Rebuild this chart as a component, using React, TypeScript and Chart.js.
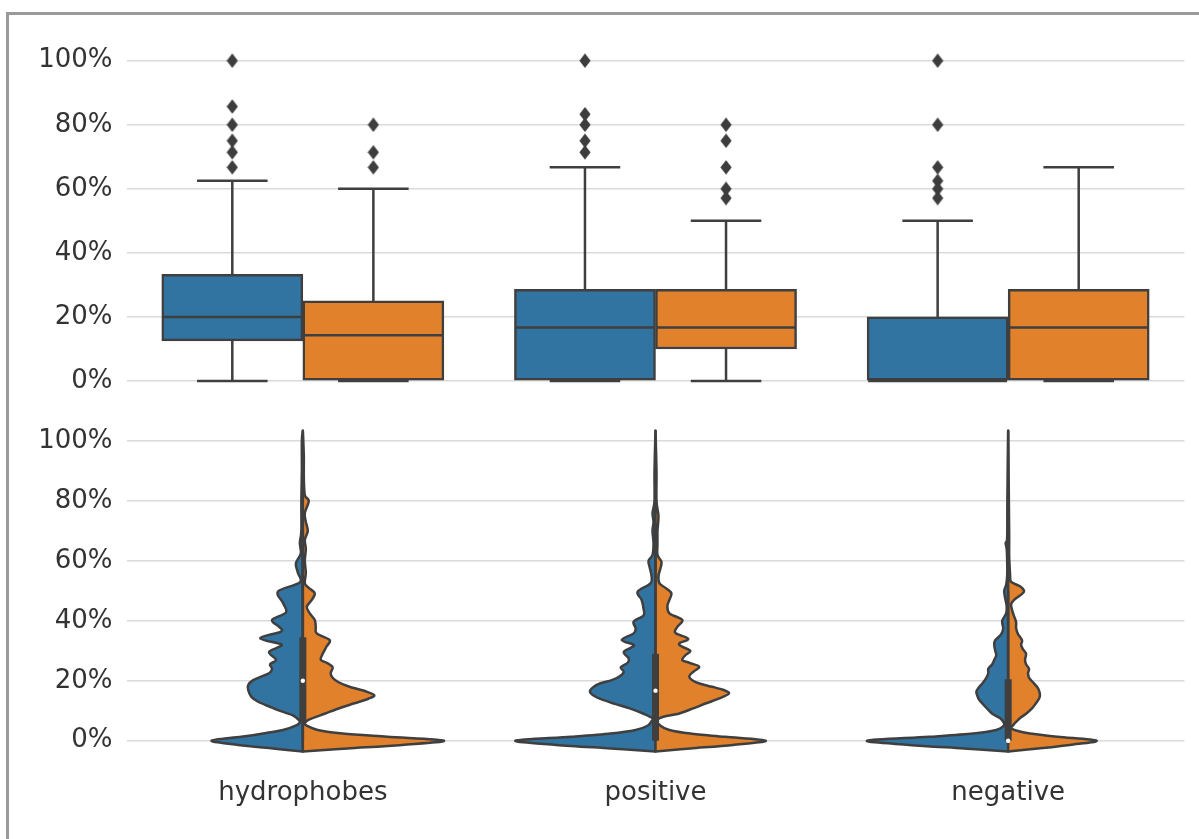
import React, { useEffect, useRef } from 'react';
import { Chart, registerables } from 'chart.js';

Chart.register(...registerables);

// ---------- data ----------
const categories = ['hydrophobes', 'positive', 'negative'];
const categoryIndex = [0, 1, 2];
const yTickValues = [0, 0.2, 0.4, 0.6, 0.8, 1.0];
const hueOffset = [-0.2, 0.2];

// box plot (top panel), one value per category
const blueQ1 = [0.125, 0, 0];
const blueMedian = [0.2, 0.167, 0];
const blueQ3 = [0.333, 0.286, 0.2];
const blueWhiskerLow = [0, 0, 0];
const blueWhiskerHigh = [0.625, 0.667, 0.5];
const blueOutliers = [
  [1.0, 0.857, 0.8, 0.75, 0.714, 0.667],
  [1.0, 0.833, 0.8, 0.75, 0.714],
  [1.0, 0.8, 0.667, 0.625, 0.6, 0.571],
];

const orangeQ1 = [0, 0.1, 0];
const orangeMedian = [0.143, 0.167, 0.167];
const orangeQ3 = [0.25, 0.286, 0.286];
const orangeWhiskerLow = [0, 0, 0];
const orangeWhiskerHigh = [0.6, 0.5, 0.667];
const orangeOutliers = [
  [0.8, 0.714, 0.667],
  [0.8, 0.75, 0.667, 0.6, 0.571],
  [],
];

// split violins (bottom panel): [value in %, density]
const violinHydroBlue = [[-3.6,0],[-2.6,30],[-1.4,65],[0,92],[1.3,62],[2.4,40],[3.6,20],[5.2,6],[6.3,3],[7.5,6],[8.6,11],[10.2,25],[11.3,33],[13,45],[14.7,52],[16.9,55],[18.6,55],[20.2,50],[21.4,42],[22.5,34],[24,31],[25.5,33],[27,27],[29.5,34],[31,26],[32.2,22],[34.2,43],[36.4,22],[38,24],[40.3,31],[42.8,17],[46,20],[49.8,25],[52.8,3],[56,5],[59.2,7],[62.5,2],[66,3],[70,1.5],[80,1.5],[90,1],[100,1],[103.4,0]];
const violinHydroOrange = [[-3.6,0],[-2.6,45],[-1.4,100],[0,142],[1.3,85],[2.4,40],[3.6,15],[5,4],[5.8,2],[7,6],[9,22],[11,38],[12.5,52],[14,66],[15.2,72],[16.5,63],[18,47],[19.5,36],[21,30],[22.5,28],[24.5,30],[26,24],[27,18],[29,20],[31.5,24],[33.6,27],[35.8,14],[38,13],[40.3,12],[42.5,7],[44.7,4],[47,9],[49.2,12],[51,6],[52.5,2],[56,3],[60,2],[64,3],[67,2],[70,5],[73,3],[76,2],[80,6],[82,2],[88,1],[95,1],[103.4,0]];
const violinPosBlue = [[-3.6,0],[-2.6,45],[-1.4,100],[0,141],[1.3,85],[2.4,45],[3.6,20],[5,8],[6.5,4],[7.5,3],[9,12],[10.8,26],[12.2,40],[13.6,53],[15,62],[16.4,66],[17.8,63],[19.1,56],[20.2,44],[21.5,36],[23,32],[24.5,35],[26,28],[27.5,27],[29.5,32],[31,25],[32,22],[33.6,34],[35.8,22],[37.5,20],[39.7,22],[41.8,12],[44,12],[47,14],[49.7,18],[52.5,5],[55,4],[58,6],[60,7],[62,3],[66,2],[70,3],[73,2],[76,3],[80,1],[90,1],[103.4,0]];
const violinPosOrange = [[-3.6,0],[-2.6,35],[-1.4,78],[0,111],[1.3,70],[2.4,35],[3.6,14],[5,5],[6.9,2],[8,8],[9.1,24],[10.8,38],[12.5,51],[14.2,65],[15.8,74],[17,68],[18,57],[19,45],[20.2,37],[21.5,34],[23,38],[24.7,44],[26,34],[26.9,27],[28.5,30],[30,35],[31.5,26],[32.5,24],[34,33],[36,20],[38,22],[40.3,27],[42.5,14],[45,12],[47,14],[49.2,16],[51,10],[52.5,4],[55,3],[57.5,5],[59.7,6],[62,2],[66,2],[70,2],[75,3],[80,1],[90,1],[103.4,0]];
const violinNegBlue = [[-3.6,0],[-2.6,45],[-1.4,100],[0,142],[1.3,80],[2.4,35],[3.6,12],[4.8,5],[5.8,4],[7.5,8],[9,16],[11,22],[13.6,29],[15,31],[16.4,32],[18,29],[19.1,26],[21,22],[22.5,20],[24,20],[25.5,16],[27,14],[28.5,12],[30,13],[32,14],[33.5,13],[35.5,7],[37.5,5],[40,6],[42.5,2],[45,1.5],[47.5,3],[50,4],[52,2],[55,1],[60,1],[64,1.5],[66,2.5],[68,1],[80,0.8],[103.4,0]];
const violinNegOrange = [[-3.6,0],[-2.6,30],[-1.4,62],[0,89],[1.3,50],[2.4,22],[3.4,8],[4.2,3],[5.2,5],[6.3,8],[7.8,13],[9,18],[10.8,24],[12.5,28],[14,31],[15.2,32],[16.8,31],[18,29],[19.5,25],[21,21],[22.5,20],[24,21],[25.5,18],[27,17],[29,18],[30.5,15],[32,13],[33.5,14],[35.5,10],[37.5,8],[39.5,8],[41.5,6],[43.5,4],[45.5,3],[47,6],[49,14],[50,16],[51.5,12],[53,3],[55,2],[58,1.5],[62,1],[70,1],[103.4,0]];

// inner box of the split violins (both hues pooled)
const violinQ1 = [0.062, 0, 0];
const violinMedian = [0.2, 0.167, 0];
const violinQ3 = [0.345, 0.29, 0.205];
const violinWhiskerLow = [0, 0, 0];
const violinWhiskerHigh = [0.75, 0.72, 0.5];

// ---------- style ----------
const BLUE = '#3274a1';
const ORANGE = '#e1812c';
const EDGE = '#3f3f3f';
const GRID = '#dadada';
const TEXT = '#333333';
const FONT = 'DejaVu Sans';

function makeDiamond(): HTMLCanvasElement {
  const c = document.createElement('canvas');
  c.width = 12;
  c.height = 15;
  const g = c.getContext('2d')!;
  g.fillStyle = '#3d3d3d';
  g.beginPath();
  g.moveTo(6, 0.3);
  g.lineTo(11.6, 7.5);
  g.lineTo(6, 14.7);
  g.lineTo(0.4, 7.5);
  g.closePath();
  g.fill();
  return c;
}

const pct = (v: number) => Math.round(v * 100) + '%';

function yScale(min: number, max: number) {
  return {
    type: 'linear',
    min,
    max,
    afterBuildTicks: (s: any) => {
      s.ticks = yTickValues.map((v) => ({ value: v }));
    },
    afterFit: (s: any) => {
      s.width = 126.5;
      s.paddingTop = 0;
      s.paddingBottom = 0;
    },
    border: { display: false },
    grid: { color: GRID, lineWidth: 1.5, drawTicks: false },
    ticks: {
      padding: 14,
      color: TEXT,
      font: { family: FONT, size: 26 },
      callback: (v: any) => pct(Number(v)),
    },
  };
}

const boxDetailsPlugin = {
  id: 'boxDetails',
  afterDatasetsDraw(chart: any) {
    const { ctx } = chart;
    const x = chart.scales.x;
    const y = chart.scales.y;
    const unit = x.getPixelForValue(1) - x.getPixelForValue(0);
    const hueSets = [
      { off: hueOffset[0], med: blueMedian, q1: blueQ1, q3: blueQ3, wl: blueWhiskerLow, wh: blueWhiskerHigh },
      { off: hueOffset[1], med: orangeMedian, q1: orangeQ1, q3: orangeQ3, wl: orangeWhiskerLow, wh: orangeWhiskerHigh },
    ];
    ctx.save();
    ctx.strokeStyle = EDGE;
    ctx.lineWidth = 2.5;
    ctx.lineCap = 'butt';
    hueSets.forEach((h) => {
      categoryIndex.forEach((i) => {
        const cx = x.getPixelForValue(i + h.off);
        const half = 0.197 * unit;
        const cap = 0.1 * unit;
        ctx.beginPath();
        ctx.moveTo(cx - half, y.getPixelForValue(h.med[i]));
        ctx.lineTo(cx + half, y.getPixelForValue(h.med[i]));
        ctx.moveTo(cx, y.getPixelForValue(h.q1[i]));
        ctx.lineTo(cx, y.getPixelForValue(h.wl[i]));
        ctx.moveTo(cx, y.getPixelForValue(h.q3[i]));
        ctx.lineTo(cx, y.getPixelForValue(h.wh[i]));
        ctx.moveTo(cx - cap, y.getPixelForValue(h.wl[i]));
        ctx.lineTo(cx + cap, y.getPixelForValue(h.wl[i]));
        ctx.moveTo(cx - cap, y.getPixelForValue(h.wh[i]));
        ctx.lineTo(cx + cap, y.getPixelForValue(h.wh[i]));
        ctx.stroke();
      });
    });
    ctx.restore();
  },
};

function smoothThrough(ctx: CanvasRenderingContext2D, pts: { x: number; y: number }[]) {
  ctx.moveTo(pts[0].x, pts[0].y);
  for (let i = 0; i < pts.length - 1; i++) {
    const p0 = pts[i - 1] || pts[i];
    const p1 = pts[i];
    const p2 = pts[i + 1];
    const p3 = pts[i + 2] || p2;
    const t = 1 / 6;
    ctx.bezierCurveTo(
      p1.x + (p2.x - p0.x) * t,
      p1.y + (p2.y - p0.y) * t,
      p2.x - (p3.x - p1.x) * t,
      p2.y - (p3.y - p1.y) * t,
      p2.x,
      p2.y
    );
  }
}

const violinProfiles = [
  [violinHydroBlue, violinHydroOrange],
  [violinPosBlue, violinPosOrange],
  [violinNegBlue, violinNegOrange],
];

const violinPlugin = {
  id: 'violins',
  afterDatasetsDraw(chart: any) {
    const { ctx } = chart;
    const x = chart.scales.x;
    const y = chart.scales.y;
    const unit = x.getPixelForValue(1) - x.getPixelForValue(0);
    let dMax = 0;
    violinProfiles.forEach((pair) => pair.forEach((p) => p.forEach(([, d]) => { if (d > dMax) dMax = d; })));
    ctx.save();
    ctx.lineJoin = 'round';
    ctx.strokeStyle = EDGE;
    violinProfiles.forEach((pair, i) => {
      const cx = x.getPixelForValue(i);
      pair.forEach((profile, h) => {
        const sign = h === 0 ? -1 : 1;
        const pts = profile.map(([v, d]) => ({
          x: cx + sign * (d / dMax) * 0.4 * unit,
          y: y.getPixelForValue(v / 100),
        }));
        ctx.beginPath();
        smoothThrough(ctx, pts);
        ctx.closePath();
        ctx.fillStyle = h === 0 ? BLUE : ORANGE;
        ctx.fill();
        ctx.lineWidth = 2.5;
        ctx.stroke();
      });
      ctx.lineCap = 'butt';
      ctx.lineWidth = 2.5;
      ctx.beginPath();
      ctx.moveTo(cx, y.getPixelForValue(violinWhiskerLow[i]));
      ctx.lineTo(cx, y.getPixelForValue(violinWhiskerHigh[i]));
      ctx.stroke();
      ctx.lineWidth = 7;
      ctx.beginPath();
      ctx.moveTo(cx, y.getPixelForValue(violinQ1[i]));
      ctx.lineTo(cx, y.getPixelForValue(violinQ3[i]));
      ctx.stroke();
      ctx.fillStyle = '#ffffff';
      ctx.beginPath();
      ctx.arc(cx, y.getPixelForValue(violinMedian[i]), 2.2, 0, Math.PI * 2);
      ctx.fill();
    });
    ctx.restore();
  },
};

function topConfig(): any {
  const diamond = makeDiamond();
  const outlierPoints: { x: number; y: number }[] = [];
  blueOutliers.forEach((list, i) => list.forEach((v) => outlierPoints.push({ x: i + hueOffset[0], y: v })));
  orangeOutliers.forEach((list, i) => list.forEach((v) => outlierPoints.push({ x: i + hueOffset[1], y: v })));
  const barStyle = {
    borderColor: EDGE,
    borderWidth: 2.5,
    borderSkipped: false,
    grouped: false,
    categoryPercentage: 1.0,
    barPercentage: 1.0,
  };
  return {
    type: 'bar',
    data: {
      datasets: [
        {
          label: 'blue',
          data: categoryIndex.map((i) => ({ x: i + hueOffset[0], y: [blueQ1[i], blueQ3[i]] })),
          backgroundColor: BLUE,
          ...barStyle,
        },
        {
          label: 'orange',
          data: categoryIndex.map((i) => ({ x: i + hueOffset[1], y: [orangeQ1[i], orangeQ3[i]] })),
          backgroundColor: ORANGE,
          ...barStyle,
        },
        {
          type: 'scatter',
          label: 'outliers',
          data: outlierPoints,
          pointStyle: diamond,
          pointRadius: 6,
          showLine: false,
        },
      ],
    },
    options: {
      responsive: false,
      animation: false,
      events: [],
      layout: { padding: { left: 0, right: 14.5, top: 44.7, bottom: 13 } },
      plugins: { legend: { display: false }, tooltip: { enabled: false } },
      scales: {
        x: {
          type: 'linear',
          display: false,
          offset: false,
          min: -0.5,
          max: 2.5,
          grid: { offset: false },
          afterBuildTicks: (s: any) => {
            s.ticks = categoryIndex.map((v) => ({ value: v }));
          },
        },
        y: yScale(-0.05, 1.05),
      },
    },
    plugins: [boxDetailsPlugin],
  };
}

function bottomConfig(): any {
  return {
    type: 'bar',
    data: { labels: categories, datasets: [] },
    options: {
      responsive: false,
      animation: false,
      events: [],
      layout: { padding: { left: 0, right: 14.5, top: 11, bottom: 0 } },
      plugins: { legend: { display: false }, tooltip: { enabled: false } },
      scales: {
        x: {
          type: 'category',
          offset: true,
          grid: { display: false, drawTicks: false },
          border: { display: false },
          afterFit: (s: any) => {
            s.height = 80.3;
            s.paddingLeft = 0;
            s.paddingRight = 0;
          },
          ticks: {
            padding: 19,
            color: TEXT,
            maxRotation: 0,
            autoSkip: false,
            font: { family: FONT, size: 26 },
          },
        },
        y: yScale(-0.06, 1.1),
      },
    },
    plugins: [violinPlugin],
  };
}

export default function App() {
  const topRef = useRef<HTMLCanvasElement>(null);
  const botRef = useRef<HTMLCanvasElement>(null);
  useEffect(() => {
    const top = new Chart(topRef.current!, topConfig());
    const bot = new Chart(botRef.current!, bottomConfig());
    return () => {
      top.destroy();
      bot.destroy();
    };
  }, []);
  return (
    <div
      style={{
        position: 'absolute',
        left: 0,
        top: 0,
        width: 1199,
        height: 839,
        background: '#ffffff',
        overflow: 'hidden',
      }}
    >
      <div
        style={{
          position: 'absolute',
          left: 6,
          top: 12,
          right: 0,
          bottom: 0,
          borderLeft: '3px solid #9a9a9a',
          borderTop: '3px solid #9a9a9a',
        }}
      />
      <canvas
        ref={topRef}
        width={1199}
        height={410}
        style={{ position: 'absolute', left: 0, top: 0, width: 1199, height: 410 }}
      />
      <canvas
        ref={botRef}
        width={1199}
        height={439}
        style={{ position: 'absolute', left: 0, top: 400, width: 1199, height: 439 }}
      />
    </div>
  );
}
